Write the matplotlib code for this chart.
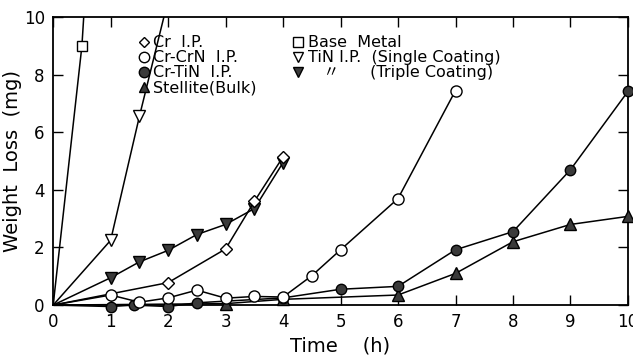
import numpy as np
import matplotlib
matplotlib.use("Agg")
import matplotlib.pyplot as plt
from matplotlib.lines import Line2D

plt.rcParams['font.family'] = ['DejaVu Sans', 'Noto Sans CJK JP']

# weight loss (mg) vs time (h)
base_t = [0, 0.5, 1.0]
base_w = [0, 9.0, 25.0]

tin1_t = [0, 1, 1.5, 2]
tin1_w = [0, 2.25, 6.55, 10.6]

tin3_t = [0, 1, 1.5, 2, 2.5, 3, 3.5, 4]
tin3_w = [0, 0.95, 1.5, 1.9, 2.45, 2.8, 3.35, 4.95]

cr_t = [0, 2, 3, 3.5, 4]
cr_w = [0, 0.78, 1.95, 3.6, 5.15]

crcrn_t = [0, 1, 1.5, 2, 2.5, 3, 3.5, 4, 4.5, 5, 6, 7]
crcrn_w = [0, 0.35, 0.1, 0.25, 0.52, 0.24, 0.3, 0.28, 1.02, 1.92, 3.7, 7.45]

crtin_t = [0, 1, 1.4, 2, 2.5, 4, 5, 6, 7, 8, 9, 10]
crtin_w = [0, -0.05, 0.0, -0.05, 0.08, 0.25, 0.55, 0.65, 1.92, 2.55, 4.7, 7.42]

stel_t = [0, 3, 4, 6, 7, 8, 9, 10]
stel_w = [0, 0.05, 0.2, 0.35, 1.1, 2.2, 2.8, 3.08]

fig = plt.figure(figsize=(6.33, 3.56), dpi=100)
ax = fig.add_axes([0.084, 0.143, 0.908, 0.809])

dark = '#3a3a3a'
lw = 1.1
ms = 7.5

def draw(t, w, marker, fc, msz=ms, z=3, clip=False):
    ax.plot(t, w, color='black', lw=lw, marker=marker, markersize=msz,
            markerfacecolor=fc, markeredgecolor='black', markeredgewidth=1.0,
            markevery=slice(1, None), clip_on=clip, zorder=z)

draw(base_t, base_w, 's', 'white', clip=True)
draw(tin1_t, tin1_w, 'v', 'white', ms + 1, clip=True)
draw(tin3_t, tin3_w, 'v', dark, ms + 1)
draw(stel_t, stel_w, '^', dark, ms + 0.5, 3)
draw(crtin_t, crtin_w, 'o', dark, ms, 4)
draw(cr_t, cr_w, 'D', 'white', ms - 1.5, 5)
draw(crcrn_t, crcrn_w, 'o', 'white', ms + 0.5, 6)

ax.set_xlim(0, 10)
ax.set_ylim(0, 10)
ax.set_xticks(range(0, 11))
ax.set_yticks(range(0, 11, 2))
ax.tick_params(direction='in', length=7, width=1, top=True, right=True,
               labelsize=12, pad=6)
for s in ax.spines.values():
    s.set_linewidth(1.3)

ax.set_xlabel('Time    (h)', fontsize=14, labelpad=4)
ax.set_ylabel('Weight  Loss  (mg)', fontsize=14, labelpad=1)

def proxy(marker, fc, msz=ms):
    return Line2D([], [], ls='none', marker=marker, markersize=msz,
                  markerfacecolor=fc, markeredgecolor='black')

handles = [proxy('D', 'white', ms - 2), proxy('o', 'white'), proxy('o', dark),
           proxy('^', dark), proxy('s', 'white'), proxy('v', 'white'),
           proxy('v', dark)]
labels = ['Cr  I.P.', 'Cr-CrN  I.P.', 'Cr-TiN  I.P.', 'Stellite(Bulk)',
          'Base  Metal', 'TiN I.P.  (Single Coating)',
          '   〃      (Triple Coating)']
ax.legend(handles, labels, ncol=2, loc='upper left', bbox_to_anchor=(0.13, 0.975),
          frameon=False, fontsize=11.5, handlelength=0.6, handletextpad=0.3,
          labelspacing=0.0, columnspacing=2.3, borderpad=0.2)

fig.savefig('out.png', dpi=100)
